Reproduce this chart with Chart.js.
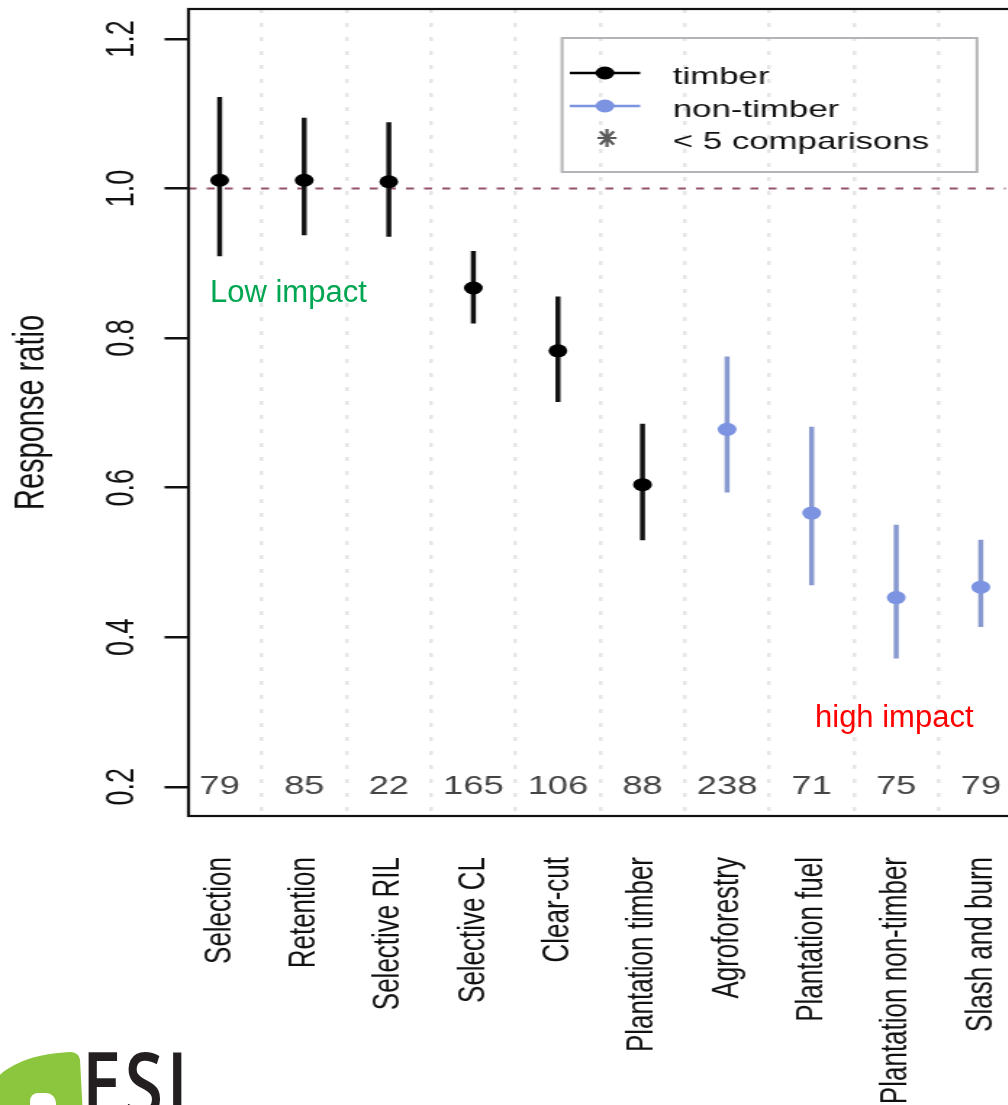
<!DOCTYPE html>
<html lang="en">
<head>
<meta charset="UTF-8">
<title>Response ratio by land use</title>
<style>
body {
    margin: 0;
    background: #fff;
    width: 1008px;
    height: 1105px;
    overflow: hidden;
    position: relative;
    font-family: 'Liberation Sans', Arial, sans-serif;
}
/* the original R plot was stretched sideways, so the canvas is too */
#wrap {
    position: absolute;
    left: 0;
    top: 0;
    width: 700px;
    height: 1105px;
    transform: scaleX(1.45);
    transform-origin: 0 0;
}
.note {
    position: absolute;
    font-size: 31px;
    line-height: 31px;
    white-space: nowrap;
}
#leaf {
    position: absolute;
    left: -14px;
    top: 1054px;
    width: 96px;
    height: 90px;
    background: #8cc63f;
    border-radius: 80px 10px 0 0 / 46px 8px 0 0;
    transform: rotate(-3deg);
}
#leafSpot {
    position: absolute;
    left: 30px;
    top: 1093px;
    width: 26px;
    height: 20px;
    background: #fff;
    border-radius: 8px 10px 0 0;
}
#esi {
    position: absolute;
    left: 82px;
    top: 1038px;
    font-family: 'Open Sans', sans-serif;
    font-weight: 600;
    font-size: 88px;
    line-height: 88px;
    color: #231f20;
    letter-spacing: 4px;
    transform: scaleX(0.8);
    transform-origin: 0 0;
}
</style>
<script src="https://cdn.jsdelivr.net/npm/chart.js"></script>
</head>
<body>
<div id="wrap"><canvas id="chart" width="700" height="1105"></canvas></div>
<div class="note" style="left:210px;top:276px;color:#00a651;">Low impact</div>
<div class="note" style="left:815px;top:701px;color:#ff0000;">high impact</div>
<div id="leaf"></div>
<div id="leafSpot"></div>
<div id="esi">ESI</div>

<script>
const categories = ["Selection", "Retention", "Selective RIL", "Selective CL", "Clear-cut",
    "Plantation timber", "Agroforestry", "Plantation fuel", "Plantation non-timber", "Slash and burn"];
const means = [1.011, 1.011, 1.009, 0.867, 0.783, 0.604, 0.678, 0.566, 0.453, 0.467];
const lower = [0.910, 0.938, 0.936, 0.820, 0.715, 0.530, 0.594, 0.470, 0.372, 0.414];
const upper = [1.122, 1.094, 1.088, 0.916, 0.855, 0.685, 0.775, 0.681, 0.550, 0.530];
const counts = [79, 85, 22, 165, 106, 88, 238, 71, 75, 79];
const groups = ["timber", "timber", "timber", "timber", "timber", "timber",
    "non-timber", "non-timber", "non-timber", "non-timber"];
const yTicks = [0.2, 0.4, 0.6, 0.8, 1.0, 1.2];
const refValue = 1.0;
const countRow = 0.2;

const pointColor = { "timber": "#000000", "non-timber": "#7b93e0" };
const barColor = { "timber": "#111111", "non-timber": "#8899cf" };
const FONT = "'Liberation Sans', Arial, sans-serif";
Chart.defaults.font.family = FONT;

// dashed reference line at 1.0
const refLine = {
    id: "refLine",
    beforeDatasetsDraw(chart) {
        const { ctx, chartArea, scales: { y } } = chart;
        const py = y.getPixelForValue(refValue);
        ctx.save();
        ctx.strokeStyle = "#94506c";
        ctx.lineWidth = 2;
        ctx.setLineDash([5.5, 7]);
        ctx.beginPath();
        ctx.moveTo(chartArea.left, py);
        ctx.lineTo(chartArea.right, py);
        ctx.stroke();
        ctx.restore();
    }
};

// number of comparisons along the bottom of the plot
const countLabels = {
    id: "countLabels",
    afterDatasetsDraw(chart) {
        const { ctx, scales: { x, y } } = chart;
        ctx.save();
        ctx.font = "25px " + FONT;
        ctx.fillStyle = "#444";
        ctx.textAlign = "center";
        ctx.textBaseline = "middle";
        counts.forEach((n, i) => {
            ctx.fillText(String(n), x.getPixelForValue(i), y.getPixelForValue(countRow));
        });
        ctx.restore();
    }
};

// box round the plot and the legend in the top right
const frameAndLegend = {
    id: "frameAndLegend",
    afterDraw(chart) {
        const { ctx, chartArea: a } = chart;
        ctx.save();
        ctx.strokeStyle = "#111";
        ctx.lineWidth = 2.2;
        ctx.strokeRect(a.left, a.top, a.right - a.left + 20, a.bottom - a.top);

        ctx.strokeStyle = "#b4b4b8";
        ctx.lineWidth = 2;
        ctx.strokeRect(387.6, 38, 286.2, 134);

        const rows = [
            { label: "timber", color: pointColor["timber"], y: 73 },
            { label: "non-timber", color: pointColor["non-timber"], y: 106 },
            { label: "< 5 comparisons", color: null, y: 138 }
        ];
        ctx.font = "24px " + FONT;
        ctx.textBaseline = "alphabetic";
        rows.forEach(r => {
            if (r.color) {
                ctx.strokeStyle = r.color;
                ctx.lineWidth = 2.5;
                ctx.beginPath();
                ctx.moveTo(393, r.y);
                ctx.lineTo(441.5, r.y);
                ctx.stroke();
                ctx.fillStyle = r.color;
                ctx.beginPath();
                ctx.arc(417.2, r.y, 6.5, 0, Math.PI * 2);
                ctx.fill();
            } else {
                // R's pch 8 star
                const cx = 418.6, cy = r.y;
                ctx.strokeStyle = "#5a5a5a";
                ctx.lineWidth = 2.2;
                ctx.beginPath();
                ctx.moveTo(cx, cy - 9); ctx.lineTo(cx, cy + 9);
                ctx.moveTo(cx - 6.6, cy); ctx.lineTo(cx + 6.6, cy);
                ctx.moveTo(cx - 4.7, cy - 6.6); ctx.lineTo(cx + 4.7, cy + 6.6);
                ctx.moveTo(cx - 4.7, cy + 6.6); ctx.lineTo(cx + 4.7, cy - 6.6);
                ctx.stroke();
            }
            ctx.fillStyle = "#111";
            ctx.fillText(r.label, 464, r.y + 11);
        });
        ctx.restore();
    }
};

const half = [];
for (let i = 0; i < categories.length; i++) { half.push(i, i + 0.5); }

new Chart(document.getElementById("chart"), {
    type: "bar",
    data: {
        datasets: [
            {
                type: "scatter",
                label: "mean",
                data: means.map((v, i) => ({ x: i, y: v })),
                pointRadius: 6.5,
                pointHoverRadius: 6.5,
                pointBorderWidth: 0,
                pointBackgroundColor: groups.map(g => pointColor[g]),
                order: 0
            },
            {
                type: "bar",
                label: "interval",
                data: lower.map((v, i) => ({ x: i, y: [v, upper[i]] })),
                backgroundColor: groups.map(g => barColor[g]),
                barThickness: 2.8,
                borderWidth: 0,
                order: 1
            }
        ]
    },
    options: {
        responsive: false,
        animation: false,
        layout: { padding: { top: 9, left: 0, right: 0, bottom: 0 } },
        plugins: {
            legend: { display: false },
            tooltip: { enabled: false }
        },
        scales: {
            x: {
                type: "linear",
                min: -0.368,
                max: 9.293,
                offset: false,
                afterBuildTicks: s => { s.ticks = half.filter(v => v <= s.max).map(v => ({ value: v })); },
                afterFit: s => {
                    s.height = 289;
                    s.paddingLeft = 0;
                    s.paddingRight = 0;
                },
                ticks: {
                    autoSkip: false,
                    minRotation: 90,
                    maxRotation: 90,
                    padding: 41,
                    color: "#111",
                    font: { size: 26 },
                    callback: v => Number.isInteger(v) ? categories[v] : ""
                },
                grid: {
                    offset: false,
                    drawTicks: false,
                    lineWidth: 2.5,
                    color: c => (c.tick && !Number.isInteger(c.tick.value)) ? "#e6e6e6" : "rgba(0,0,0,0)"
                },
                border: { display: false, dash: [4, 10] }
            },
            y: {
                type: "linear",
                min: 0.161,
                max: 1.240,
                afterBuildTicks: s => { s.ticks = yTicks.map(v => ({ value: v })); },
                afterFit: s => {
                    s.width = 130;
                    s.paddingTop = 0;
                    s.paddingBottom = 0;
                },
                ticks: {
                    minRotation: 90,
                    maxRotation: 90,
                    crossAlign: "center",
                    padding: 10,
                    color: "#111",
                    font: { size: 27 },
                    callback: v => v.toFixed(1)
                },
                grid: {
                    drawOnChartArea: false,
                    drawTicks: true,
                    tickLength: 16.5,
                    lineWidth: 2.5,
                    color: "#111"
                },
                border: { display: false },
                title: {
                    display: true,
                    text: "Response ratio",
                    color: "#111",
                    font: { size: 29 },
                    padding: { top: 5, bottom: 0 }
                }
            }
        }
    },
    plugins: [refLine, countLabels, frameAndLegend]
});
</script>
</body>
</html>
